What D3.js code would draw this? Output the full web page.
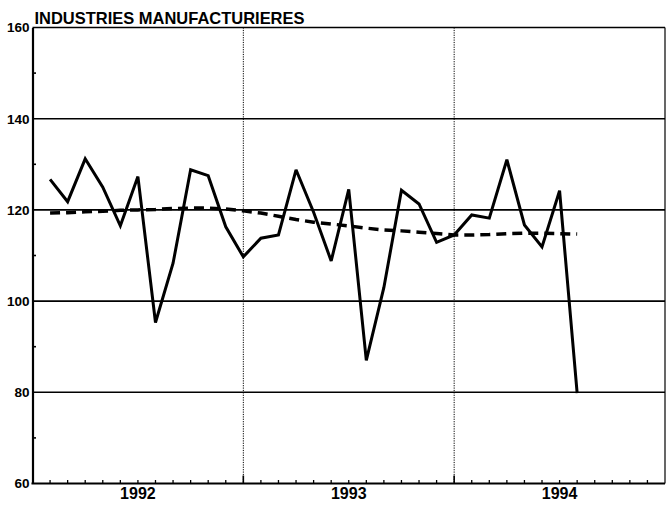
<!DOCTYPE html>
<html>
<head>
<meta charset="utf-8">
<script src="https://cdn.jsdelivr.net/npm/d3@7"></script>
<style>
  html, body { margin: 0; padding: 0; background: #fff; }
  svg { display: block; font-family: "Liberation Sans", Arial, sans-serif; }
</style>
</head>
<body>
<svg id="chart" width="666" height="505"></svg>
<script>
// ---- data ----
const title = "INDUSTRIES MANUFACTURIERES";
const monthIndex = d3.range(1, 32); // Feb 1992 .. Aug 1994 positions (months since Jan 1992)
const values = [126.7, 121.8, 131.2, 125.0, 116.5, 127.3, 95.3, 108.3, 128.8, 127.5, 116.3, 109.7,
                113.8, 114.5, 128.8, 119.5, 108.8, 124.5, 87.0, 103.0, 124.3, 121.3, 112.9, 114.5,
                118.9, 118.2, 131.0, 116.7, 111.9, 124.2, 79.8];
const trend = [119.3, 119.4, 119.6, 119.7, 119.9, 120.0, 120.1, 120.3, 120.4, 120.4, 120.2, 119.8,
               119.3, 118.6, 117.9, 117.3, 116.9, 116.5, 116.0, 115.6, 115.4, 115.1, 114.8, 114.5,
               114.5, 114.6, 114.8, 114.9, 114.9, 114.8, 114.7];
const yTicks = [60, 80, 100, 120, 140, 160];
const yMinorTicks = [70, 90, 110, 130, 150];
const yearLabels = ["1992", "1993", "1994"];
const yearStarts = [0, 12, 24, 36];

// ---- layout ----
const svg = d3.select("#chart");
const pLeft = 32.5, pRight = 665, pTop = 27.5, pBottom = 483.5;
const x = d3.scaleLinear().domain([0, 36]).range([pLeft, pRight]);
const y = d3.scaleLinear().domain([60, 160]).range([pBottom, pTop]);

// horizontal grid lines
svg.append("g").selectAll("line").data(yTicks.filter(v => v > 60)).join("line")
  .attr("x1", pLeft).attr("x2", pRight)
  .attr("y1", d => y(d)).attr("y2", d => y(d))
  .attr("stroke", "#000").attr("stroke-width", 1.6);

// vertical dotted year separators
svg.append("g").selectAll("line").data([12, 24]).join("line")
  .attr("x1", d => x(d)).attr("x2", d => x(d))
  .attr("y1", pTop).attr("y2", pBottom)
  .attr("stroke", "#000").attr("stroke-width", 1).attr("stroke-dasharray", "1.2,1.2");

// right border
svg.append("line").attr("x1", pRight).attr("x2", pRight).attr("y1", pTop).attr("y2", pBottom)
  .attr("stroke", "#000").attr("stroke-width", 1.2);

// left axis
const yAxis = d3.axisLeft(y).tickValues(yTicks).tickSize(0).tickPadding(3).tickFormat(d3.format("d"));
const gy = svg.append("g").attr("transform", `translate(${pLeft},0)`).call(yAxis);
gy.select(".domain").attr("stroke", "#000").attr("stroke-width", 2.2);
gy.selectAll("text").attr("font-size", 13.5).attr("font-weight", "bold").attr("fill", "#000")
  .attr("font-family", "'Liberation Sans', Arial, sans-serif");

// left minor ticks (pointing inside)
svg.append("g").selectAll("line").data(yMinorTicks).join("line")
  .attr("x1", pLeft).attr("x2", pLeft + 3.5)
  .attr("y1", d => y(d)).attr("y2", d => y(d))
  .attr("stroke", "#000").attr("stroke-width", 1.6);

// bottom axis line
svg.append("line").attr("x1", pLeft - 1).attr("x2", pRight).attr("y1", pBottom).attr("y2", pBottom)
  .attr("stroke", "#000").attr("stroke-width", 2.2);

// month ticks (pointing up)
const monthTicks = d3.range(1, 36).filter(m => m % 12 !== 0);
svg.append("g").selectAll("line").data(monthTicks).join("line")
  .attr("x1", d => x(d)).attr("x2", d => x(d))
  .attr("y1", pBottom).attr("y2", pBottom - 3.5)
  .attr("stroke", "#000").attr("stroke-width", 1.3);
// year boundary ticks (taller)
svg.append("g").selectAll("line").data([12, 24]).join("line")
  .attr("x1", d => x(d)).attr("x2", d => x(d))
  .attr("y1", pBottom).attr("y2", pBottom - 8)
  .attr("stroke", "#000").attr("stroke-width", 1.6);

// year labels
svg.append("g").selectAll("text").data(yearLabels).join("text")
  .attr("x", (d, i) => x((yearStarts[i] + yearStarts[i + 1]) / 2))
  .attr("y", 499)
  .attr("text-anchor", "middle")
  .attr("font-size", 16).attr("font-weight", "bold").attr("fill", "#000")
  .text(d => d);

// title
svg.append("text").attr("x", 34.5).attr("y", 24)
  .attr("font-size", 16.5).attr("font-weight", "bold").attr("fill", "#000")
  .attr("textLength", 270).attr("lengthAdjust", "spacingAndGlyphs")
  .text(title);

// trend (dashed)
const line = d3.line().x(d => x(d[0])).y(d => y(d[1]));
svg.append("path")
  .datum(monthIndex.map((m, i) => [m, trend[i]]))
  .attr("d", line)
  .attr("fill", "none").attr("stroke", "#000").attr("stroke-width", 3.5)
  .attr("stroke-dasharray", "10,6");

// series (solid)
svg.append("path")
  .datum(monthIndex.map((m, i) => [m, values[i]]))
  .attr("d", line)
  .attr("fill", "none").attr("stroke", "#000").attr("stroke-width", 3)
  .attr("stroke-linejoin", "miter").attr("stroke-miterlimit", 3);
</script>
</body>
</html>
